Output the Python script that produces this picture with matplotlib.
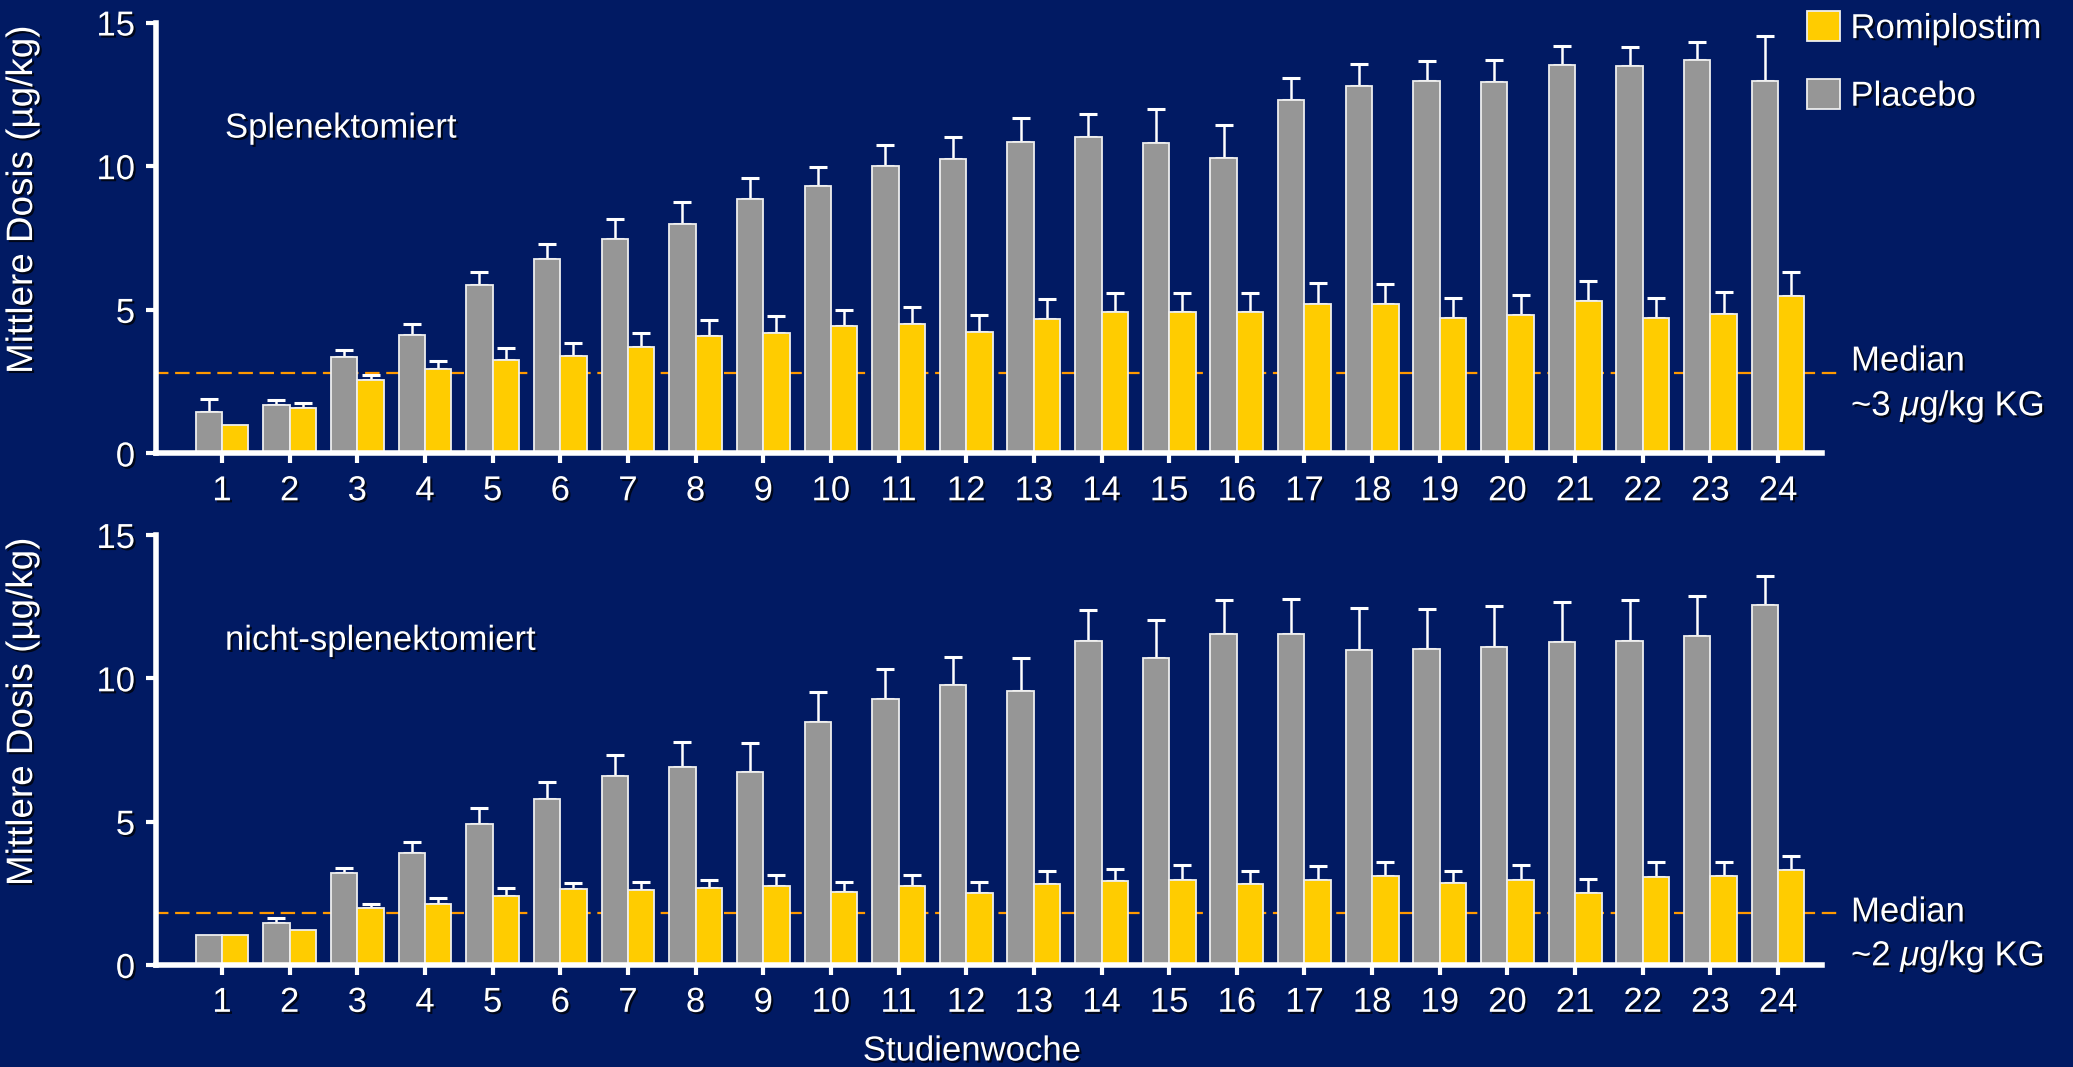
import numpy as np
import matplotlib
matplotlib.use("Agg")
import matplotlib.pyplot as plt
import matplotlib.patheffects as pe

plt.rcParams['font.family'] = ['Liberation Sans', 'DejaVu Sans']
plt.rcParams['mathtext.fontset'] = 'custom'
plt.rcParams['mathtext.rm'] = 'Liberation Sans'
plt.rcParams['mathtext.it'] = 'Liberation Sans:italic'

# Studienwochen
wochen = np.arange(1, 25)

# Splenektomiert: Mittelwert und oberer Fehlerbalken
spl_placebo = [1.45, 1.69, 3.37, 4.13, 5.85, 6.78, 7.46, 8.00, 8.87, 9.30, 10.02, 10.25,
               10.84, 11.00, 10.82, 10.28, 12.29, 12.78, 12.95, 12.94, 13.51, 13.49, 13.68, 12.96]
spl_placebo_err = [0.43, 0.16, 0.23, 0.38, 0.46, 0.52, 0.71, 0.74, 0.72, 0.66, 0.73, 0.78,
                   0.84, 0.80, 1.18, 1.17, 0.79, 0.76, 0.70, 0.76, 0.66, 0.66, 0.63, 1.57]
spl_romi = [0.99, 1.60, 2.54, 2.94, 3.26, 3.39, 3.70, 4.10, 4.19, 4.44, 4.51, 4.24,
            4.67, 4.94, 4.91, 4.91, 5.21, 5.21, 4.72, 4.81, 5.29, 4.70, 4.87, 5.48]
spl_romi_err = [0.00, 0.14, 0.19, 0.29, 0.40, 0.45, 0.49, 0.54, 0.58, 0.56, 0.59, 0.58,
                0.69, 0.66, 0.66, 0.69, 0.72, 0.69, 0.68, 0.69, 0.73, 0.70, 0.76, 0.82]

# nicht-splenektomiert
nspl_placebo = [1.03, 1.48, 3.22, 3.90, 4.93, 5.80, 6.58, 6.90, 6.73, 8.47, 9.29, 9.77,
                9.55, 11.29, 10.72, 11.53, 11.54, 10.98, 11.01, 11.08, 11.25, 11.31, 11.46, 12.55]
nspl_placebo_err = [0.00, 0.16, 0.18, 0.39, 0.56, 0.59, 0.76, 0.88, 1.01, 1.05, 1.04, 0.97,
                    1.16, 1.11, 1.30, 1.19, 1.21, 1.47, 1.41, 1.43, 1.41, 1.43, 1.42, 1.03]
nspl_romi = [1.03, 1.22, 2.00, 2.13, 2.42, 2.65, 2.61, 2.67, 2.77, 2.55, 2.77, 2.51,
             2.84, 2.93, 2.98, 2.82, 2.98, 3.10, 2.86, 2.95, 2.52, 3.08, 3.10, 3.30]
nspl_romi_err = [0.00, 0.00, 0.14, 0.19, 0.25, 0.21, 0.29, 0.29, 0.38, 0.34, 0.38, 0.38,
                 0.44, 0.41, 0.51, 0.46, 0.48, 0.49, 0.42, 0.54, 0.47, 0.50, 0.49, 0.51]

median_spl = 2.8
median_nspl = 1.8

BG = '#011A63'
GRAU = '#969696'
GELB = '#FFCC00'
ORANGE = '#FF9900'
FS = 25

schatten = [pe.withSimplePatchShadow(offset=(1.5, -1.5), shadow_rgbFace='black', alpha=0.75)]

fig = plt.figure(figsize=(20.73, 10.67), dpi=100, facecolor=BG)


def panel(ax, placebo, placebo_err, romi, romi_err, median, titel):
    ax.set_facecolor(BG)
    breite = 0.39

    # Median als gestrichelte Linie hinter den Balken
    ax.plot([0.0, 24.9], [median, median], color=ORANGE, lw=1.6,
            dashes=(6.5, 3), zorder=1, clip_on=False)

    b_pl = ax.bar(wochen - breite / 2, placebo, width=breite, color=GRAU,
                  edgecolor='#EEEEEE', linewidth=1.3, zorder=2, label='Placebo')
    b_ro = ax.bar(wochen + breite / 2, romi, width=breite, color=GELB,
                  edgecolor='#EEEEEE', linewidth=1.3, zorder=2, label='Romiplostim')

    # nur obere Fehlerbalken
    for x, y, e in [(wochen - breite / 2, placebo, placebo_err),
                    (wochen + breite / 2, romi, romi_err)]:
        y = np.asarray(y)
        e = np.asarray(e)
        m = e > 0
        ax.errorbar(x[m], y[m], yerr=[np.zeros(m.sum()), e[m]], fmt='none',
                    ecolor='white', elinewidth=1.8, capsize=6.5, capthick=2.2, zorder=1.5)

    ax.set_xlim(0.0244, 24.65)
    ax.set_ylim(0, 15)
    ax.set_yticks([0, 5, 10, 15])
    ax.set_xticks(wochen)

    for s in ['top', 'right']:
        ax.spines[s].set_visible(False)
    for s in ['left', 'bottom']:
        ax.spines[s].set_color('white')
        ax.spines[s].set_linewidth(4)
        ax.spines[s].set_zorder(3)

    ax.tick_params(colors='white', labelcolor='white', labelsize=FS,
                   length=7, width=3, direction='out', pad=8)
    for t in ax.get_xticklabels() + ax.get_yticklabels():
        t.set_path_effects(schatten)

    ax.set_ylabel('Mittlere Dosis (µg/kg)', color='white', fontsize=26.5,
                  path_effects=schatten)
    ax.yaxis.set_label_coords(-0.0696, 0.588)

    ax.text(0.0414, 0.755, titel, transform=ax.transAxes, color='white',
            fontsize=FS, va='center', ha='left', path_effects=schatten)
    return b_ro, b_pl


ax1 = fig.add_axes([0.07525, 0.5750, 0.8037, 0.4039])
ax2 = fig.add_axes([0.07525, 0.0956, 0.8037, 0.4030])

b_ro, b_pl = panel(ax1, spl_placebo, spl_placebo_err, spl_romi, spl_romi_err,
                   median_spl, 'Splenektomiert')
panel(ax2, nspl_placebo, nspl_placebo_err, nspl_romi, nspl_romi_err,
      median_nspl, 'nicht-splenektomiert')

leg = ax1.legend(handles=[b_ro, b_pl], labels=['Romiplostim', 'Placebo'],
                 loc='upper left', bbox_to_anchor=(0.8717, 0.9895),
                 bbox_transform=fig.transFigure, frameon=False, fontsize=FS,
                 handlelength=0.95, handleheight=0.95, handletextpad=0.3,
                 labelspacing=0.97, borderaxespad=0, borderpad=0)
for t in leg.get_texts():
    t.set_color('white')
    t.set_path_effects(schatten)

# Beschriftung der Medianlinien
for y1, y2, txt in [(361, 406, r'~3 $\mu$g/kg KG'), (912, 956, r'~2 $\mu$g/kg KG')]:
    fig.text(1851 / 2073, 1 - y1 / 1067, 'Median', color='white', fontsize=FS,
             va='center', ha='left', path_effects=schatten)
    fig.text(1851 / 2073, 1 - y2 / 1067, txt, color='white', fontsize=FS,
             va='center', ha='left', path_effects=schatten)

fig.text(972 / 2073, 1 - 1051 / 1067, 'Studienwoche', color='white', fontsize=FS,
         va='center', ha='center', path_effects=schatten)

fig.savefig('out.png', dpi=100, facecolor=BG)
